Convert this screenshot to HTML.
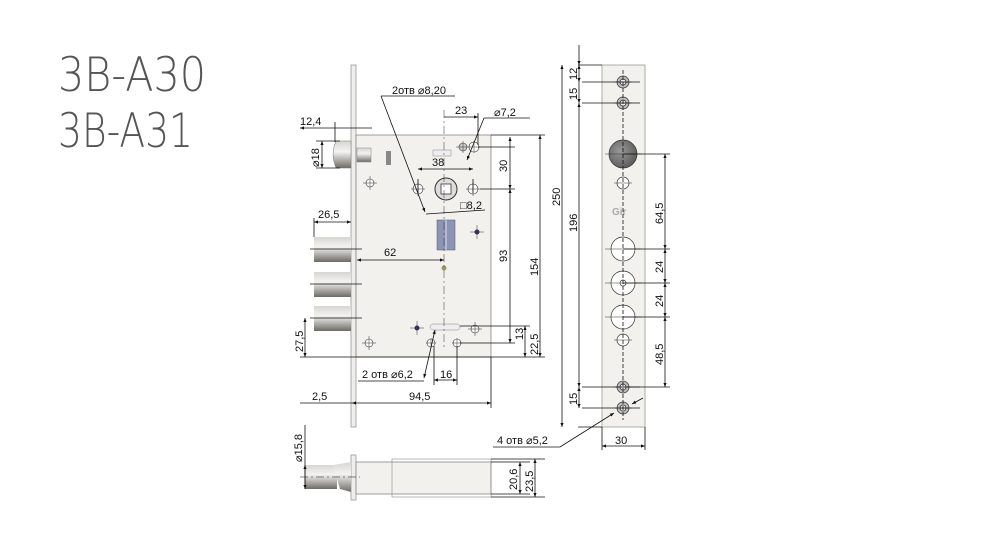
<!DOCTYPE html>
<html><head><meta charset="utf-8"><style>
html,body{margin:0;padding:0;background:#fff}
svg{display:block}
text{font-family:"Liberation Sans",sans-serif;fill:#111}
.d{stroke:#111;stroke-width:0.8;fill:none}
.t{font-size:11px}
.ttl{font-family:"DejaVu Sans ExtraLight","DejaVu Sans Light","Liberation Sans",sans-serif;fill:#555}
.x{stroke:#333;stroke-width:0.5}
</style></head><body>
<svg width="1000" height="537" viewBox="0 0 1000 537" xmlns="http://www.w3.org/2000/svg">
<defs>
<linearGradient id="cyl" x1="0" y1="0" x2="0" y2="1">
<stop offset="0" stop-color="#d8d6d2"/><stop offset="0.4" stop-color="#f4f3f1"/><stop offset="1" stop-color="#6e6b66"/>
</linearGradient>
<radialGradient id="big" cx="0.4" cy="0.4" r="0.7"><stop offset="0" stop-color="#999"/><stop offset="1" stop-color="#555"/></radialGradient>
<marker id="a" viewBox="0 0 10 10" refX="10" refY="5" markerWidth="7" markerHeight="5" orient="auto-start-reverse"><path d="M0,1 L10,5 L0,9z" fill="#111"/></marker>
</defs>
<!-- titles -->
<text class="ttl" x="58" y="91" font-size="47" textLength="148" lengthAdjust="spacingAndGlyphs">3B-A30</text>
<text class="ttl" x="58" y="147" font-size="47" textLength="135" lengthAdjust="spacingAndGlyphs">3B-A31</text>

<!-- faceplate -->
<rect x="351" y="65" width="5" height="362" fill="#f0eeea" stroke="#999" stroke-width="0.8"/>
<!-- body -->
<rect x="356" y="135" width="135" height="222" fill="#f2f1ee" stroke="#888" stroke-width="0.8"/>
<!-- latch -->
<path d="M336,141 L351,141 L351,168 L336,168 Q330,154 336,141z" fill="url(#cyl)" stroke="#777" stroke-width="0.5"/>
<rect x="357" y="148" width="14" height="14" fill="url(#cyl)" stroke="#888" stroke-width="0.5"/>
<rect x="386" y="151" width="5" height="14" fill="#888"/>
<rect x="433" y="150" width="18" height="6" fill="#eee" stroke="#888" stroke-width="0.5"/>
<!-- bolts -->
<rect x="314" y="237" width="37" height="25" fill="url(#cyl)"/>
<rect x="314" y="272" width="37" height="25" fill="url(#cyl)"/>
<rect x="314" y="306" width="37" height="25" fill="url(#cyl)"/>
<g class="d" stroke-width="0.5"><line x1="310" y1="249" x2="362" y2="249"/><line x1="310" y1="284" x2="362" y2="284"/><line x1="310" y1="318" x2="362" y2="318"/></g>
<!-- cylinder block -->
<rect x="437" y="220" width="18" height="30" fill="#8c95b5" stroke="#556" stroke-width="0.5"/>
<line x1="446" y1="220" x2="446" y2="250" stroke="#dde" stroke-width="1"/>
<!-- spindle -->
<circle cx="446" cy="189" r="11" fill="#ddd" stroke="#333" stroke-width="1"/>
<rect x="441" y="184" width="10" height="10" fill="#fff" stroke="#333" stroke-width="0.8"/>
<circle cx="418" cy="189" r="5" fill="#fff" stroke="#333" stroke-width="0.6"/>
<circle cx="473" cy="189" r="5" fill="#fff" stroke="#333" stroke-width="0.6"/>
<circle cx="474" cy="147" r="5" fill="#fff" stroke="#333" stroke-width="0.6"/>
<circle cx="463" cy="147" r="4" fill="#ccc" stroke="#333" stroke-width="0.6"/>
<g fill="#fff" stroke="#333" stroke-width="0.6">
<circle cx="370" cy="183" r="4"/><circle cx="369" cy="343" r="4"/><circle cx="475" cy="329" r="4"/>
<circle cx="431" cy="343" r="4"/><circle cx="457" cy="343" r="4"/>
</g>
<g class="x">
<path d="M363,183h14M370,176v14M362,343h14M369,336v14M468,329h14M475,322v14M456,147h24M463,141v12M474,141v12M411,189h14M418,182v14M466,189h14M473,182v14M426,343h10M431,338v10M452,343h10M457,338v10M410,328h14M417,321v14M470,232h14M477,225v14"/>
</g>
<circle cx="477" cy="232" r="2.5" fill="#335"/><circle cx="417" cy="328" r="2.5" fill="#335"/>
<circle cx="444" cy="268" r="2.5" fill="#996"/>
<rect x="430" y="324" width="30" height="6" rx="3" fill="#eee" stroke="#888" stroke-width="0.5"/>
<line x1="444" y1="110" x2="444" y2="350" stroke="#333" stroke-width="0.5" stroke-dasharray="8,3,2,3"/>

<!-- dimensions main -->
<g class="d">
<line x1="300" y1="128" x2="372" y2="128" marker-start="url(#a)"/>
<line x1="335" y1="122" x2="335" y2="142"/>
<line x1="322" y1="141" x2="322" y2="168" marker-start="url(#a)" marker-end="url(#a)"/>
<line x1="316" y1="141" x2="340" y2="141"/><line x1="316" y1="168" x2="340" y2="168"/>
<line x1="314" y1="222" x2="351" y2="222" marker-start="url(#a)" marker-end="url(#a)"/>
<line x1="314" y1="218" x2="314" y2="237"/>
<line x1="357" y1="260" x2="444" y2="260" marker-start="url(#a)" marker-end="url(#a)"/>
<line x1="305" y1="318" x2="305" y2="357" marker-start="url(#a)" marker-end="url(#a)"/>
<line x1="300" y1="357" x2="545" y2="357"/>
<line x1="352" y1="403" x2="491" y2="403" marker-start="url(#a)" marker-end="url(#a)"/>
<line x1="300" y1="403" x2="352" y2="403"/>
<line x1="491" y1="357" x2="491" y2="408"/>
<line x1="418" y1="193" x2="418" y2="179"/><line x1="473" y1="193" x2="473" y2="179"/>
<line x1="418" y1="169" x2="473" y2="169" marker-start="url(#a)" marker-end="url(#a)"/>
<line x1="444" y1="117" x2="478" y2="117" marker-end="url(#a)"/>
<line x1="478" y1="113" x2="478" y2="145"/>
<line x1="381" y1="96" x2="425" y2="212" marker-end="url(#a)"/>
<line x1="381" y1="96" x2="455" y2="96"/>
<line x1="484" y1="118" x2="467" y2="160" marker-end="url(#a)"/>
<line x1="484" y1="118" x2="530" y2="118"/>
<line x1="426" y1="214" x2="485" y2="210"/>
<line x1="478" y1="147" x2="515" y2="147"/><line x1="480" y1="189" x2="515" y2="189"/>
<line x1="510" y1="137" x2="510" y2="189" marker-start="url(#a)" marker-end="url(#a)"/>
<line x1="510" y1="189" x2="510" y2="343" marker-start="url(#a)" marker-end="url(#a)"/>
<line x1="460" y1="343" x2="515" y2="343"/>
<line x1="460" y1="326" x2="530" y2="326"/>
<line x1="525" y1="326" x2="525" y2="357" marker-start="url(#a)" marker-end="url(#a)"/>
<line x1="491" y1="135" x2="545" y2="135"/>
<line x1="540" y1="135" x2="540" y2="357" marker-start="url(#a)" marker-end="url(#a)"/>
<line x1="435" y1="330" x2="424" y2="378" marker-end="url(#a)" marker-start="url(#a)"/>
<line x1="358" y1="381" x2="424" y2="381"/>
<line x1="434" y1="346" x2="434" y2="385"/><line x1="457" y1="346" x2="457" y2="385"/>
<line x1="434" y1="380" x2="457" y2="380" marker-start="url(#a)" marker-end="url(#a)"/>
</g>
<g class="t">
<text x="300" y="125">12,4</text>
<text x="319" y="167" transform="rotate(-90 319 167)">⌀18</text>
<text x="318" y="218">26,5</text>
<text x="384" y="256">62</text>
<text x="303" y="352" transform="rotate(-90 303 352)">27,5</text>
<text x="312" y="400">2,5</text>
<text x="409" y="400">94,5</text>
<text x="392" y="94">2отв  ⌀8,20</text>
<text x="455" y="114">23</text>
<text x="494" y="116">⌀7,2</text>
<text x="432" y="166">38</text>
<text x="460" y="209">□8,2</text>
<text x="507" y="172" transform="rotate(-90 507 172)">30</text>
<text x="507" y="262" transform="rotate(-90 507 262)">93</text>
<text x="523" y="340" transform="rotate(-90 523 340)">13</text>
<text x="538" y="355" transform="rotate(-90 538 355)">22,5</text>
<text x="538" y="276" transform="rotate(-90 538 276)">154</text>
<text x="362" y="378">2 отв  ⌀6,2</text>
<text x="440" y="378">16</text>
</g>

<!-- strike plate -->
<rect x="602" y="65" width="43" height="362" fill="#f2f1ee" stroke="#999" stroke-width="0.8"/>
<g stroke="#333" stroke-width="0.7">
<circle cx="623" cy="82" r="6" fill="#bbb"/><circle cx="623" cy="82" r="3" fill="#eee"/>
<circle cx="623" cy="103" r="6" fill="#bbb"/><circle cx="623" cy="103" r="3" fill="#eee"/>
<circle cx="623" cy="154" r="14" fill="url(#big)"/>
<circle cx="623" cy="183" r="6" fill="#fff"/>
<circle cx="623" cy="249" r="12" fill="#fff"/>
<circle cx="623" cy="283" r="12" fill="#fff"/><circle cx="623" cy="283" r="3" fill="#fff"/>
<circle cx="623" cy="317" r="12" fill="#fff"/>
<circle cx="623" cy="340" r="6" fill="#fff"/>
<circle cx="623" cy="387" r="6" fill="#bbb"/><circle cx="623" cy="387" r="3" fill="#eee"/>
<circle cx="623" cy="408" r="6" fill="#bbb"/><circle cx="623" cy="408" r="3" fill="#eee"/>
</g>
<g class="x"><path d="M605,154h36M605,249h36M605,283h36M605,317h36M614,183h18M614,340h18M614,82h18M614,103h18M614,387h18M614,408h18"/></g>
<text x="612" y="215" font-size="10" style="fill:#aaa;font-weight:bold">Gir</text>
<g class="d" stroke-width="0.6">
<line x1="623" y1="70" x2="623" y2="420" stroke-dasharray="4,2"/>
<line x1="578" y1="65" x2="602" y2="65"/><line x1="578" y1="427" x2="602" y2="427"/>
<line x1="582" y1="82" x2="640" y2="82"/><line x1="582" y1="103" x2="640" y2="103"/>
<line x1="582" y1="387" x2="640" y2="387"/><line x1="582" y1="408" x2="640" y2="408"/>
<line x1="623" y1="154" x2="670" y2="154"/><line x1="623" y1="249" x2="670" y2="249"/>
<line x1="623" y1="283" x2="670" y2="283"/><line x1="623" y1="317" x2="670" y2="317"/>
<line x1="628" y1="387" x2="670" y2="387"/>
</g>
<g class="d">
<line x1="579" y1="45" x2="579" y2="65" marker-end="url(#a)"/>
<line x1="579" y1="65" x2="579" y2="82" marker-start="url(#a)" marker-end="url(#a)"/>
<line x1="579" y1="82" x2="579" y2="103" marker-end="url(#a)"/>
<line x1="579" y1="103" x2="579" y2="387" marker-start="url(#a)" marker-end="url(#a)"/>
<line x1="579" y1="387" x2="579" y2="408" marker-start="url(#a)" marker-end="url(#a)"/>
<line x1="562" y1="65" x2="562" y2="427" marker-start="url(#a)" marker-end="url(#a)"/>
<line x1="665" y1="154" x2="665" y2="249" marker-start="url(#a)" marker-end="url(#a)"/>
<line x1="665" y1="249" x2="665" y2="283" marker-start="url(#a)" marker-end="url(#a)"/>
<line x1="665" y1="283" x2="665" y2="317" marker-start="url(#a)" marker-end="url(#a)"/>
<line x1="665" y1="317" x2="665" y2="387" marker-start="url(#a)" marker-end="url(#a)"/>
<line x1="602" y1="427" x2="602" y2="450"/><line x1="645" y1="427" x2="645" y2="450"/>
<line x1="602" y1="446" x2="645" y2="446" marker-start="url(#a)" marker-end="url(#a)"/>
<line x1="493" y1="447" x2="560" y2="447"/>
<line x1="560" y1="447" x2="614" y2="413" marker-end="url(#a)"/>
<line x1="643" y1="398" x2="632" y2="404" marker-end="url(#a)"/>
</g>
<g class="t">
<text x="577" y="80" transform="rotate(-90 577 80)">12</text>
<text x="577" y="100" transform="rotate(-90 577 100)">15</text>
<text x="577" y="405" transform="rotate(-90 577 405)">15</text>
<text x="577" y="232" transform="rotate(-90 577 232)">196</text>
<text x="560" y="206" transform="rotate(-90 560 206)">250</text>
<text x="663" y="224" transform="rotate(-90 663 224)">64,5</text>
<text x="663" y="273" transform="rotate(-90 663 273)">24</text>
<text x="663" y="307" transform="rotate(-90 663 307)">24</text>
<text x="663" y="365" transform="rotate(-90 663 365)">48,5</text>
<text x="615" y="444">30</text>
<text x="497" y="444">4 отв  ⌀5,2</text>
</g>

<!-- bottom view -->
<rect x="351" y="455" width="5" height="45" fill="#f0eeea" stroke="#999" stroke-width="0.8"/>
<rect x="356" y="462" width="135" height="32" fill="#f2f1ee" stroke="#888" stroke-width="0.8"/>
<rect x="392" y="459" width="99" height="38" fill="none" stroke="#888" stroke-width="0.6"/>
<rect x="305" y="465" width="32" height="24" fill="url(#cyl)"/>
<path d="M333,465 L351,462 L351,492 L340,489z" fill="url(#cyl)"/>
<g class="d">
<line x1="300" y1="477" x2="360" y2="477" stroke-dasharray="8,3,2,3" stroke-width="0.5"/>
<line x1="305" y1="425" x2="305" y2="489"/>
<line x1="305" y1="465" x2="305" y2="489" marker-start="url(#a)" marker-end="url(#a)"/>
<line x1="491" y1="462" x2="530" y2="462"/><line x1="491" y1="494" x2="530" y2="494"/>
<line x1="491" y1="459" x2="545" y2="459"/><line x1="491" y1="497" x2="545" y2="497"/>
<line x1="520" y1="462" x2="520" y2="494" marker-start="url(#a)" marker-end="url(#a)"/>
<line x1="535" y1="459" x2="535" y2="497" marker-start="url(#a)" marker-end="url(#a)"/>
</g>
<g class="t">
<text x="302" y="462" transform="rotate(-90 302 462)">⌀15,8</text>
<text x="517" y="490" transform="rotate(-90 517 490)">20,6</text>
<text x="533" y="492" transform="rotate(-90 533 492)">23,5</text>
</g>
</svg>
</body></html>
